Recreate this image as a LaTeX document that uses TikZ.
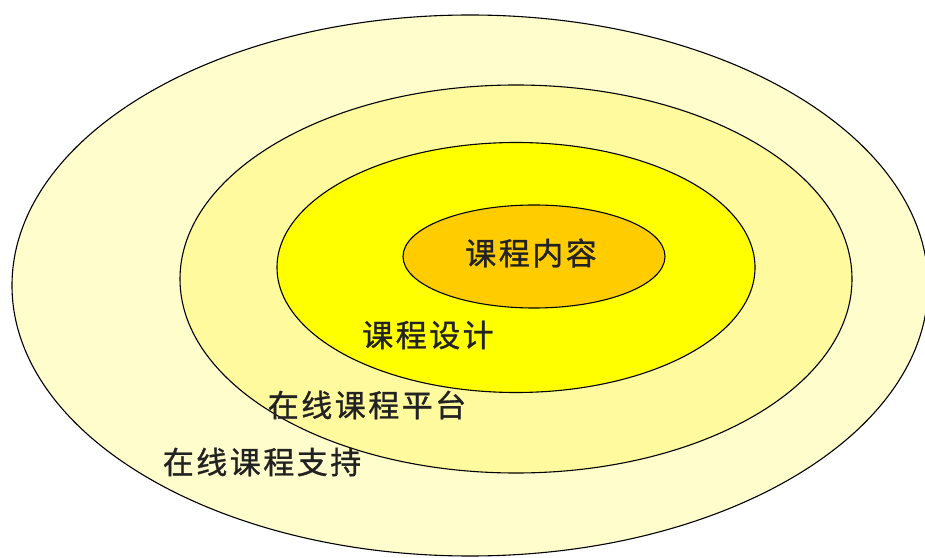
\documentclass[tikz,border=0pt]{standalone}
\usepackage{fontspec}
\newfontfamily\cjk[LetterSpace=8,FakeBold=1]{Noto Sans CJK SC}
\usetikzlibrary{shapes.geometric}
\definecolor{ringA}{HTML}{FFFDCC}
\definecolor{ringB}{HTML}{FFFA9E}
\definecolor{ringC}{HTML}{FFFF00}
\definecolor{ringD}{HTML}{FFCC00}
\definecolor{txt}{HTML}{222222}
\tikzset{
  ring/.style={ellipse, draw=black, line width=1.1pt, inner sep=0pt},
  lbl/.style={font=\cjk\fontsize{31}{31}\selectfont, text=txt, inner sep=0pt}
}
\begin{document}
\begin{tikzpicture}[x=1pt,y=1pt]
\useasboundingbox (0,0) rectangle (925,557);
\clip (0,0) rectangle (925,557);
\fill[white] (0,0) rectangle (925,557);
\node[ring, fill=ringA, minimum width=916pt, minimum height=541pt] (outer) at (470,271.5) {};
\node[ring, fill=ringB, minimum width=672pt, minimum height=388pt] (platform) at (516,278) {};
\node[ring, fill=ringC, minimum width=478pt, minimum height=250pt] (design) at (516,289.5) {};
\node[ring, fill=ringD, minimum width=262pt, minimum height=103pt] (content) at (534,300.5) {};
\node[lbl] (t1) at (531,304) {课程内容};
\node[lbl] (t2) at (428,222) {课程设计};
\node[lbl] (t3) at (367,152) {在线课程平台};
\node[lbl] (t4) at (262,95) {在线课程支持};
\end{tikzpicture}
\end{document}
